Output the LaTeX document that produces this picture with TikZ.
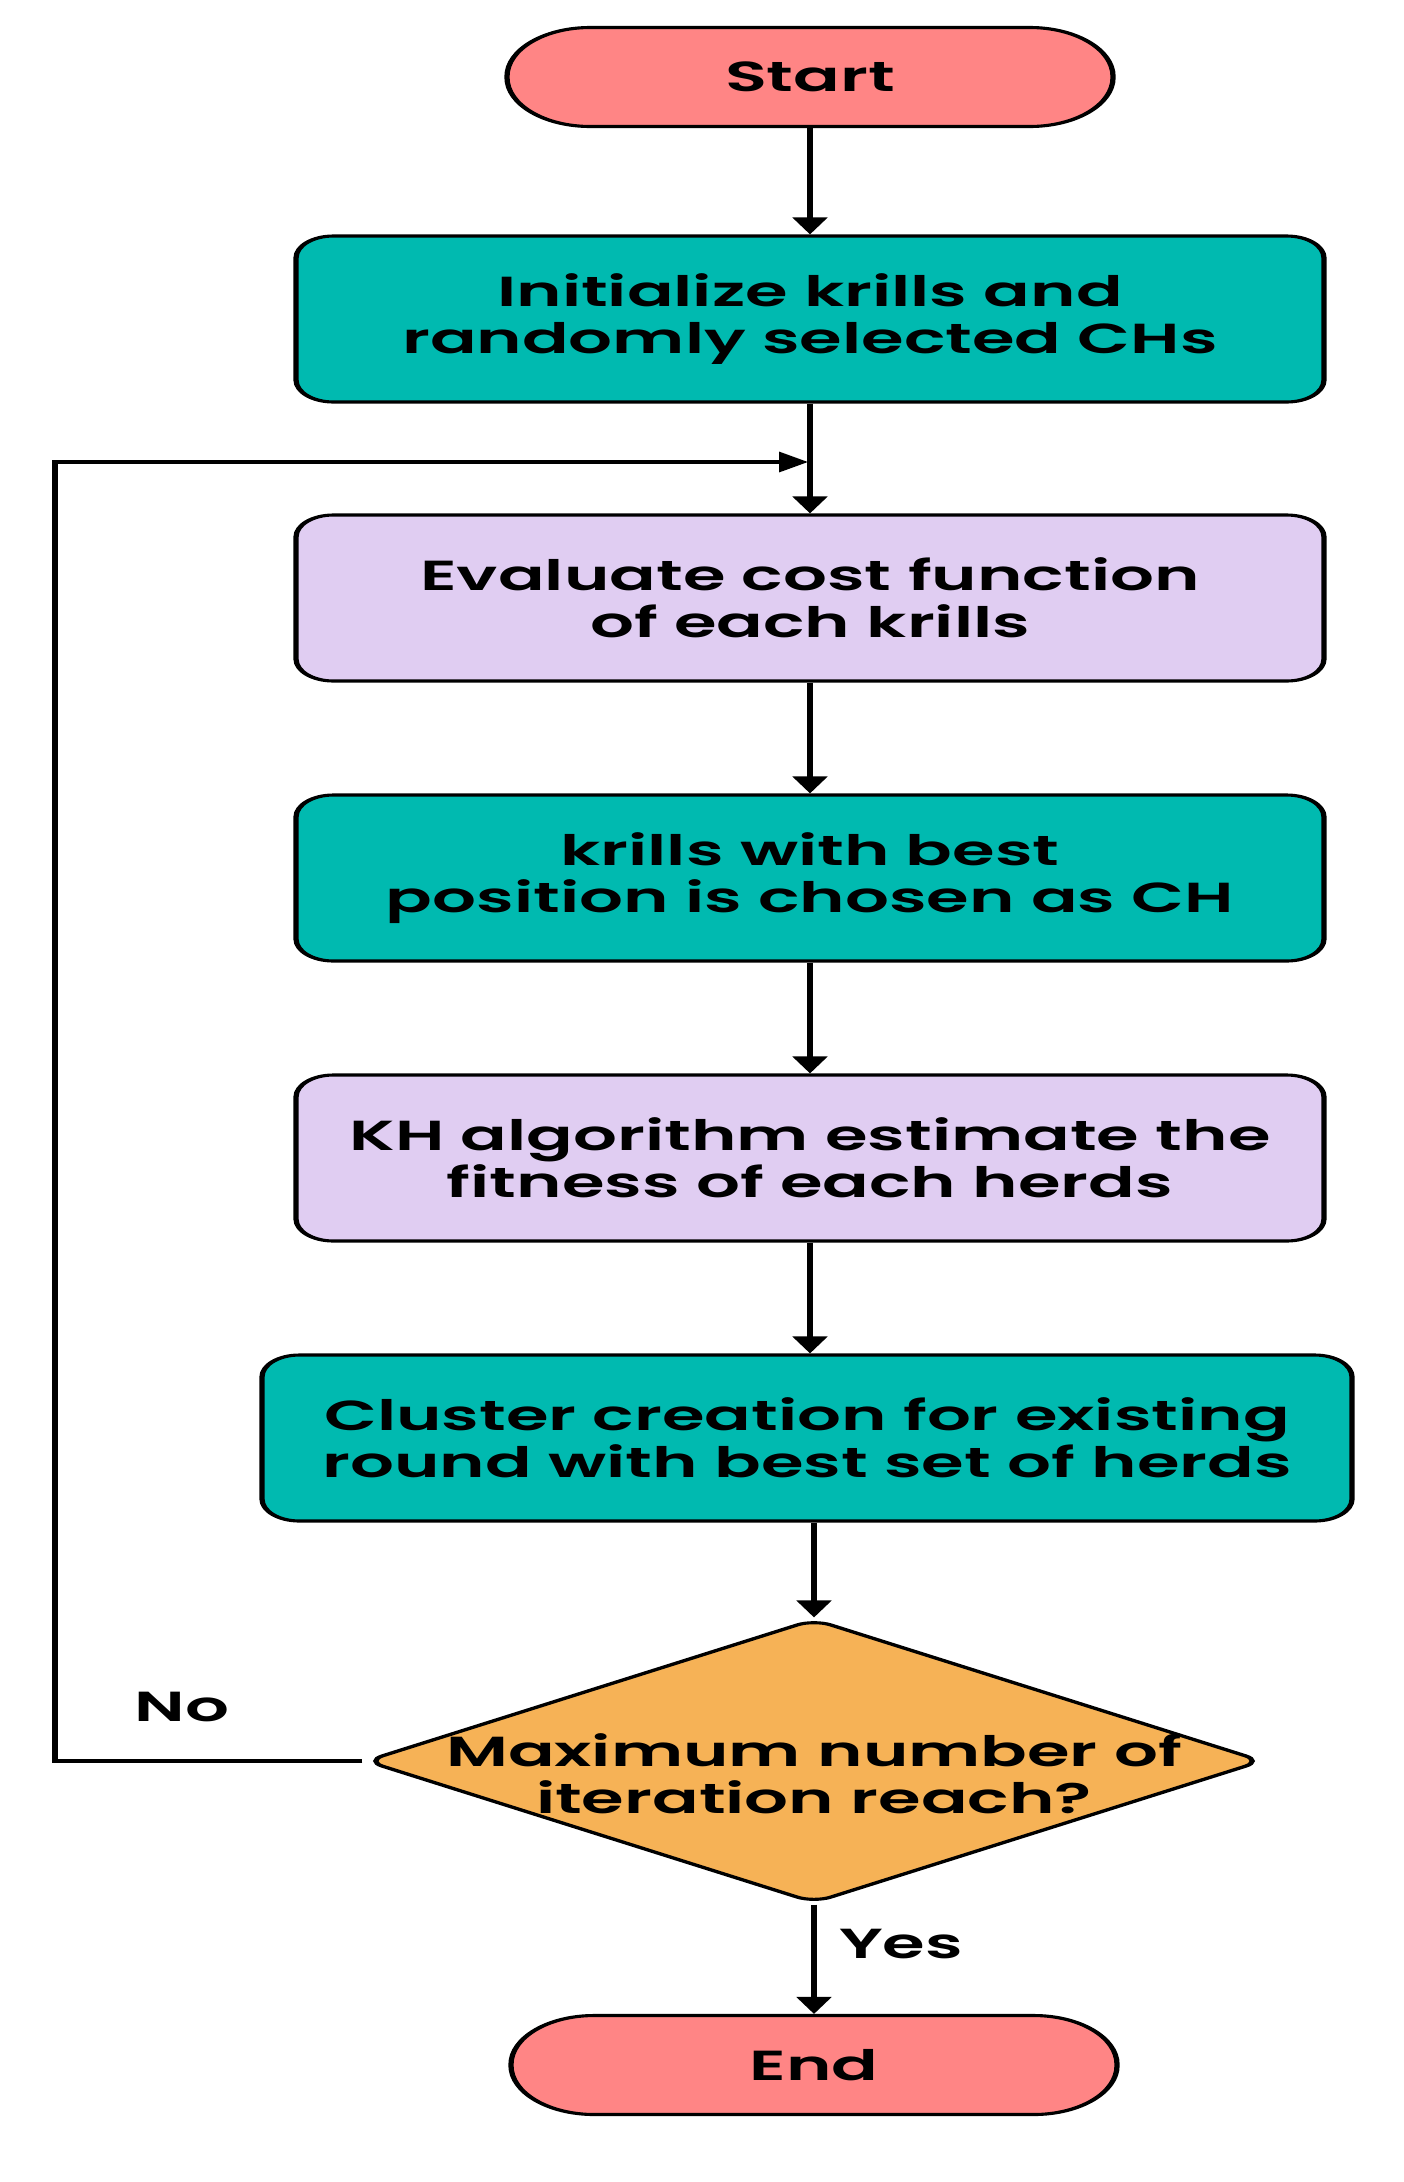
\documentclass[tikz,border=0pt]{standalone}
\usepackage{fontspec}
\setmainfont{Poppins}[FakeStretch=0.965, BoldFont={* SemiBold}]
\usetikzlibrary{shapes.geometric,arrows.meta}
\definecolor{salmon}{HTML}{FF8585}
\definecolor{teal2}{HTML}{00BAB0}
\definecolor{lav}{HTML}{E0CDF2}
\definecolor{orng}{HTML}{F6B256}
\begin{document}
\begin{tikzpicture}[
  txt/.style={font=\fontsize{42}{47}\selectfont\bfseries, align=center, text=black},
  term/.style={txt, draw=black, line width=3.1pt, fill=salmon, rounded corners=49pt, minimum width=356.5pt, minimum height=99pt, inner sep=0pt},
  procbox/.style={txt, draw=black, line width=3.1pt, rounded corners=22pt, minimum width=604.7pt, minimum height=166pt, inner sep=0pt},
  tealbox/.style={procbox, fill=teal2},
  lavbox/.style={procbox, fill=lav},
  decide/.style={diamond, draw=black, line width=3.1pt, fill=orng, rounded corners=11pt, minimum width=528.2pt, minimum height=284pt, inner sep=0pt},
  conn/.style={line width=3.1pt, -{Triangle[width=20pt,length=17pt]}},
  lbl/.style={txt}
]
\useasboundingbox (0,0) rectangle (1404pt,-2182pt);
\begin{scope}[transform canvas={xscale=1.7}, x=0.588235pt, y=-1pt]
\node[term] (start) at (810,77) {Start};
\node[tealbox] (init) at (810,319) {Initialize krills and\\randomly selected CHs};
\node[lavbox] (eval) at (810,598) {Evaluate cost function\\of each krills};
\node[tealbox] (best) at (810,878) {krills with best\\position is chosen as CH};
\node[lavbox] (kh) at (810,1158) {KH algorithm estimate the\\fitness of each herds};
\node[tealbox, minimum width=641.2pt] (clus) at (807,1438) {Cluster creation for existing\\round with best set of herds};
\node[decide] (dec) at (814,1761) {};
\node[txt] (dect) at (814,1774) {Maximum number of\\iteration reach?};
\node[term] (stop) at (814,2065) {End};
\coordinate (loopA) at (55,1761);
\coordinate (loopB) at (55,462);
\coordinate (join) at (808,462);
\draw[conn] (start) -- (init);
\draw[conn] (init) -- (eval);
\draw[conn] (eval) -- (best);
\draw[conn] (best) -- (kh);
\draw[conn] (kh) -- (kh |- clus.north);
\draw[conn] (clus.south -| dec.north) -- (dec.north);
\draw[conn] (dec.south) -- (stop.north);
\draw[conn] (dec.west) -- (loopA) -- (loopB) -- (join);
\node[lbl] (no) at (182,1707) {No};
\node[lbl] (yes) at (901,1944) {Yes};
\end{scope}
\end{tikzpicture}
\end{document}
